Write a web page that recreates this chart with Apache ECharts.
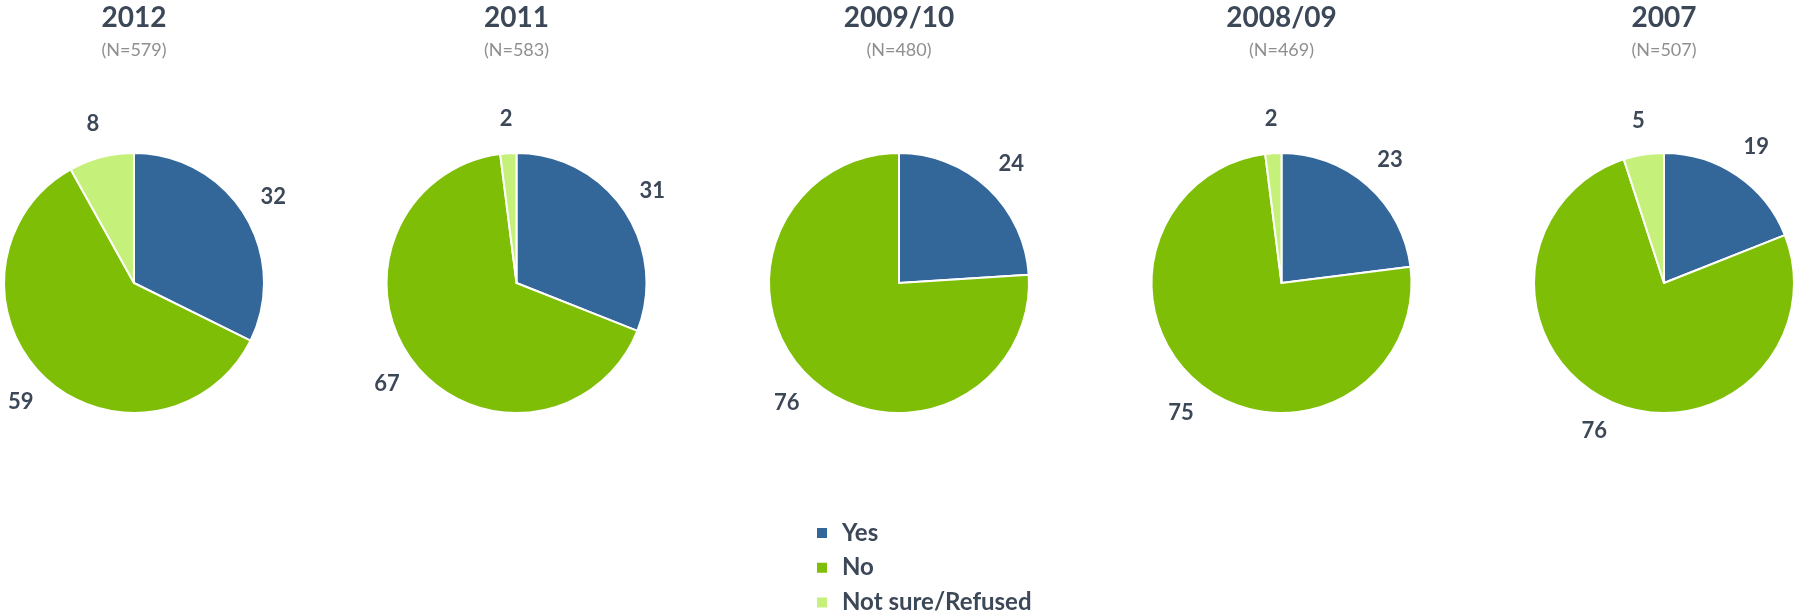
<!DOCTYPE html>
<html>
<head>
<meta charset="utf-8">
<script src="https://cdn.jsdelivr.net/npm/echarts@6/dist/echarts.min.js"></script>
<style>
  html, body { margin: 0; padding: 0; background: #fff; }
  #chart { width: 1793px; height: 615px; }
</style>
</head>
<body>
<div id="chart"></div>
<script>
const categories = ['Yes', 'No', 'Not sure/Refused'];
const years = ['2012', '2011', '2009/10', '2008/09', '2007'];
const sampleSizes = ['(N=579)', '(N=583)', '(N=480)', '(N=469)', '(N=507)'];
const yesValues = [32, 31, 24, 23, 19];
const noValues = [59, 67, 76, 75, 76];
const notSureValues = [8, 2, 0, 2, 5];

const colors = ['#336699', '#7fbe06', '#c5f07a'];
const textDark = '#3c4858';
const font = 'Lato, "Open Sans", sans-serif';

const firstCenterX = 134;
const stepX = 382.5;
const centerY = 283;
const radius = 130;

const titles = [];
const series = [];
years.forEach((y, i) => {
  const cx = firstCenterX + i * stepX;
  const vals = [yesValues[i], noValues[i], notSureValues[i]];
  const data = [];
  vals.forEach((v, k) => { if (v > 0) data.push({ name: categories[k], value: v, itemStyle: { color: colors[k] } }); });
  titles.push({
    text: y,
    subtext: sampleSizes[i],
    left: cx,
    top: 4,
    textAlign: 'center',
    padding: 0,
    itemGap: 9,
    textStyle: { fontFamily: font, fontWeight: 'bold', fontSize: 28, color: textDark },
    subtextStyle: { fontFamily: font, fontSize: 18, color: '#8f8f8f' }
  });
  series.push({
    type: 'pie',
    center: [cx, centerY],
    radius: radius,
    startAngle: 90,
    clockwise: true,
    label: { show: false },
    labelLine: { show: false },
    itemStyle: { borderColor: '#ffffff', borderWidth: 2 },
    emphasis: { disabled: true },
    data: data
  });
  series.push({
    type: 'pie',
    center: [cx, centerY],
    radius: [radius + 4, radius + 58],
    startAngle: 90,
    clockwise: true,
    silent: true,
    emphasis: { disabled: true },
    itemStyle: { color: 'rgba(0,0,0,0)', borderWidth: 0 },
    label: {
      show: true, position: 'inside', formatter: '{c}',
      fontFamily: font, fontWeight: 'bold', fontSize: 22, color: textDark
    },
    labelLine: { show: false },
    data: data.map(d => ({ name: d.name, value: d.value, itemStyle: { color: 'rgba(0,0,0,0)' } }))
  });
});

const chart = echarts.init(document.getElementById('chart'), null, { renderer: 'canvas' });
chart.setOption({
  animation: false,
  backgroundColor: '#ffffff',
  color: colors,
  title: titles,
  legend: {
    data: categories.map((c, k) => ({ name: c, itemStyle: { color: colors[k] } })),
    orient: 'vertical',
    left: 815,
    top: 521,
    height: 100,
    padding: 0,
    icon: 'rect',
    itemWidth: 12,
    itemHeight: 12,
    itemGap: 10.7,
    selectedMode: false,
    textStyle: { fontFamily: font, fontWeight: 'bold', fontSize: 24, color: textDark, padding: [0, 0, 0, 9] }
  },
  series: series
});
</script>
</body>
</html>
